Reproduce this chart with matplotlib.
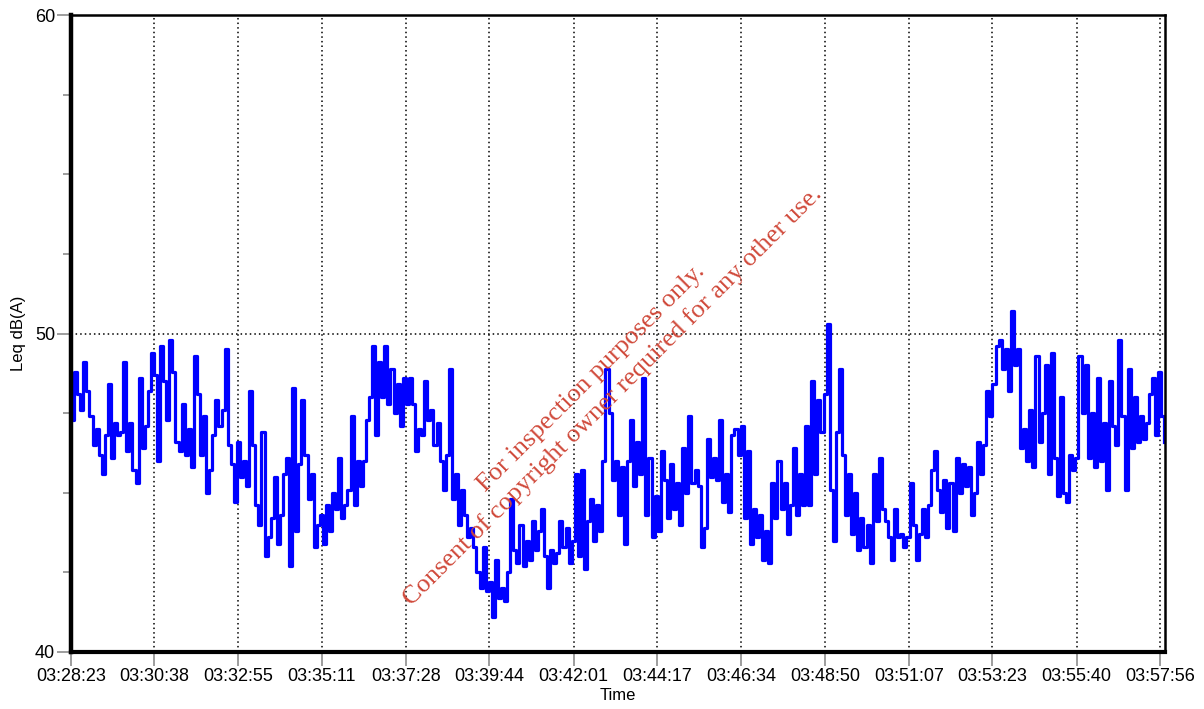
import numpy as np
import matplotlib
matplotlib.use("Agg")
import matplotlib.pyplot as plt
from matplotlib.ticker import MultipleLocator, FixedLocator

plt.rcParams['font.family'] = ['Liberation Sans', 'DejaVu Sans']

# sampling: one Leq value every 5 s, starting 03:28:23
start_time = "03:28:23"
step_s = 5

leq = [
    47.3, 48.8, 48.1, 47.6, 49.1, 48.2, 47.4, 46.5, 47.0, 46.2,
    45.6, 46.8, 48.4, 46.1, 47.2, 46.8, 46.9, 49.1, 46.3, 47.2,
    45.7, 45.3, 48.6, 46.4, 47.1, 48.2, 49.4, 48.7, 46.0, 49.6,
    48.5, 47.3, 49.8, 48.8, 46.6, 46.3, 47.8, 46.2, 47.0, 45.8,
    49.3, 48.1, 46.2, 47.4, 45.0, 45.7, 46.8, 47.9, 47.1, 47.6,
    49.5, 46.5, 45.9, 44.7, 46.6, 45.5, 46.0, 45.2, 48.2, 46.5,
    44.6, 44.0, 46.9, 43.0, 43.6, 44.2, 45.5, 43.4, 44.3, 45.6,
    46.1, 42.7, 48.3, 43.8, 45.9, 47.9, 46.2, 44.8, 45.6, 43.3,
    44.0, 44.3, 43.4, 44.6, 43.8, 45.0, 44.5, 46.1, 44.2, 44.6,
    45.1, 47.4, 44.6, 46.0, 45.2, 46.0, 47.3, 48.0, 49.6, 46.8,
    49.1, 48.0, 49.6, 47.8, 48.9, 47.5, 48.4, 47.1, 48.6, 47.8,
    48.6, 47.8, 46.3, 47.0, 46.8, 48.5, 47.3, 47.6, 46.5, 47.2,
    46.0, 45.1, 46.2, 48.9, 44.8, 45.6, 44.0, 45.1, 44.3, 43.6,
    43.9, 43.3, 42.5, 42.0, 43.3, 41.9, 42.2, 41.1, 42.9, 41.7,
    42.0, 41.6, 42.5, 44.8, 43.2, 42.8, 44.0, 42.7, 43.5, 42.9,
    44.1, 43.2, 43.8, 44.5, 43.0, 42.0, 43.2, 42.8, 43.1, 44.1,
    43.3, 43.9, 42.8, 43.5, 45.6, 43.0, 45.7, 42.6, 44.1, 44.8,
    43.5, 44.6, 43.8, 46.0, 48.9, 47.5, 45.4, 46.0, 44.3, 45.8,
    43.4, 46.0, 47.3, 45.2, 46.6, 45.6, 48.6, 44.3, 46.1, 43.6,
    44.9, 43.8, 46.3, 45.4, 44.2, 45.9, 44.5, 45.3, 44.0, 46.4,
    45.0, 47.4, 45.3, 45.7, 45.2, 43.3, 43.9, 46.7, 45.5, 46.1,
    45.4, 47.3, 44.7, 45.6, 44.4, 46.8, 47.0, 46.2, 47.1, 44.2,
    46.3, 43.4, 44.5, 43.6, 44.3, 42.9, 43.8, 42.8, 45.3, 44.2,
    46.0, 44.5, 45.3, 43.7, 44.6, 46.4, 44.3, 45.6, 44.6, 47.1,
    44.6, 48.5, 45.6, 47.9, 46.9, 48.1, 50.3, 45.1, 43.5, 46.9,
    48.9, 46.2, 44.3, 45.6, 43.7, 45.0, 43.2, 44.2, 43.3, 44.0,
    42.8, 45.6, 44.1, 46.1, 44.5, 44.1, 43.6, 42.9, 44.5, 43.6,
    43.7, 43.3, 43.6, 45.3, 44.0, 42.9, 43.7, 44.5, 43.6, 44.6,
    45.7, 46.3, 45.1, 44.4, 45.4, 43.9, 45.3, 43.8, 46.1, 45.0,
    45.9, 45.2, 45.8, 44.3, 45.0, 46.6, 45.6, 46.5, 48.2, 47.4,
    48.4, 49.6, 49.8, 48.9, 49.5, 48.2, 50.7, 49.0, 49.5, 46.4,
    47.0, 46.0, 47.6, 45.8, 49.3, 46.6, 47.5, 49.0, 45.6, 49.4,
    46.1, 44.9, 48.0, 45.0, 44.7, 46.2, 45.7, 46.1, 49.3, 47.5,
    49.0, 46.1, 47.5, 45.8, 48.6, 46.0, 47.2, 45.1, 48.5, 47.1,
    46.5, 49.8, 47.4, 45.1, 48.9, 46.4, 48.0, 46.6, 47.4, 46.7,
    47.2, 48.1, 48.6, 46.8, 48.8, 47.4, 46.6,
]

tick_labels = ["03:28:23", "03:30:38", "03:32:55", "03:35:11", "03:37:28",
               "03:39:44", "03:42:01", "03:44:17", "03:46:34", "03:48:50",
               "03:51:07", "03:53:23", "03:55:40", "03:57:56"]


def to_seconds(s):
    h, m, sec = s.split(":")
    return int(h) * 3600 + int(m) * 60 + int(sec)


t0 = to_seconds(start_time)
t = np.arange(len(leq)) * step_s
tick_pos = [to_seconds(s) - t0 for s in tick_labels]

fig = plt.figure(figsize=(12.04, 7.09), dpi=100)
ax = fig.add_axes([0.059, 0.0804, 0.9087, 0.8984])

ax.plot(t, leq, drawstyle="steps-post", color="#0000ff", lw=2.3, zorder=3)

ax.set_xlim(0, 1781)
ax.set_ylim(40, 60)
ax.xaxis.set_major_locator(FixedLocator(tick_pos))
ax.set_xticklabels(tick_labels)
ax.yaxis.set_major_locator(MultipleLocator(10))
ax.yaxis.set_minor_locator(MultipleLocator(2.5))

ax.tick_params(axis="both", which="major", length=10, width=1.2, color="#8c8c8c",
               labelsize=13, pad=1.5)
ax.tick_params(axis="y", which="minor", length=6, width=1.2, color="#8c8c8c")

ax.grid(True, which="major", color="black", linestyle=(0, (1, 2)), lw=1.1, zorder=1)

ax.spines["left"].set_linewidth(3.2)
ax.spines["bottom"].set_linewidth(3.0)
ax.spines["top"].set_linewidth(1.8)
ax.spines["right"].set_linewidth(1.8)
for sp in ax.spines.values():
    sp.set_zorder(4)

ax.set_xlabel("Time", fontsize=12, labelpad=2)
ax.set_ylabel("Leq dB(A)", fontsize=12, labelpad=6)

wm = dict(color="#d0493a", fontsize=19, rotation=45, rotation_mode="anchor",
          ha="center", va="center", family=["Liberation Serif", "DejaVu Serif"], zorder=5)
fig.text(0.491, 0.467, "For inspection purposes only.", **wm)
fig.text(0.509, 0.441, "Consent of copyright owner required for any other use.", **wm)

fig.savefig("out.png", dpi=100)
